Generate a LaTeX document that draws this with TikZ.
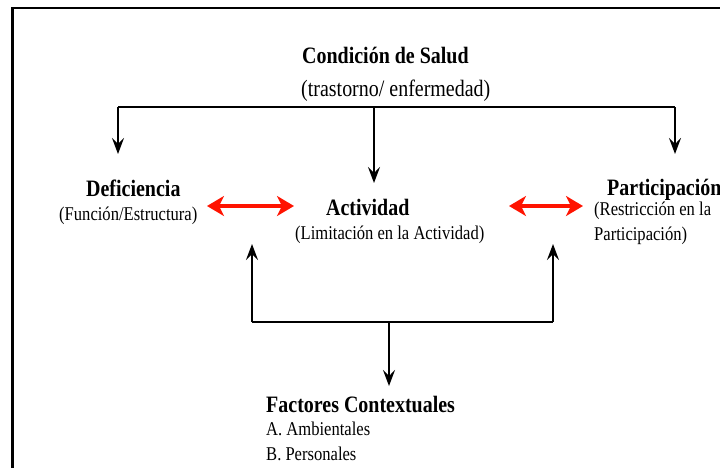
\documentclass[tikz,border=0pt]{standalone}
\usepackage{fontspec}
\setmainfont[FakeStretch=0.85]{Liberation Serif}
\usetikzlibrary{arrows.meta}

\begin{document}
\begin{tikzpicture}[x=1pt,y=-1pt,
  title/.style={anchor=base west,inner sep=0pt,font=\fontsize{23.5}{26}\selectfont\bfseries},
  sub/.style={anchor=base west,inner sep=0pt,align=left,font=\fontsize{19.5}{25}\selectfont},
  blk/.style={-{Stealth[length=16pt,width=12pt,inset=6pt]},line width=1.5pt},
  redarr/.style={{Stealth[length=17pt,width=20pt,inset=5pt]}-{Stealth[length=17pt,width=20pt,inset=5pt]},line width=3.5pt,color=red!85!orange}]
\useasboundingbox (0,0) rectangle (720,467);
\fill[white] (0,0) rectangle (720,467);
\draw[line width=2.5pt] (12.5,470) -- (12.5,8) -- (722,8);

\node[title] (salud) at (302,63) {Condición de Salud};
\node[sub,font=\fontsize{23.5}{26}\selectfont] (saludsub) at (301,96) {(trastorno/ enfermedad)};

\node[title] (defi) at (86,196) {Deficiencia};
\node[sub] (defisub) at (59,220) {(Función/Estructura)};

\node[title] (activ) at (326,215) {Actividad};
\node[sub] (activsub) at (295,239) {(Limitación en la Actividad)};

\node[title] (partic) at (607,195) {Participación};
\node[sub] (particsub) at (594,240) {(Restricción en la\\Participación)};

\node[title] (factores) at (266,412) {Factores Contextuales};
\node[sub] (factsub) at (266,460) {A. Ambientales\\B. Personales};

\coordinate (topL) at (118,107);
\coordinate (topM) at (374,107);
\coordinate (topR) at (675,107);
\draw[line width=1.5pt] (topL) -- (topR);
\draw[blk] (topL) -- (118,154);
\draw[blk] (topM) -- (374,183);
\draw[blk] (topR) -- (675,154);

\coordinate (botL) at (252,322);
\coordinate (botM) at (389,322);
\coordinate (botR) at (553,322);
\draw[line width=1.5pt] (botL) -- (botR);
\draw[blk] (botL) -- (252,244);
\draw[blk] (botR) -- (553,244);
\draw[blk] (botM) -- (389,386);

\coordinate (r1a) at (207,206);
\coordinate (r1b) at (294,206);
\coordinate (r2a) at (509,206);
\coordinate (r2b) at (583,206);
\draw[redarr] (r1a) -- (r1b);
\draw[redarr] (r2a) -- (r2b);
\end{tikzpicture}
\end{document}
